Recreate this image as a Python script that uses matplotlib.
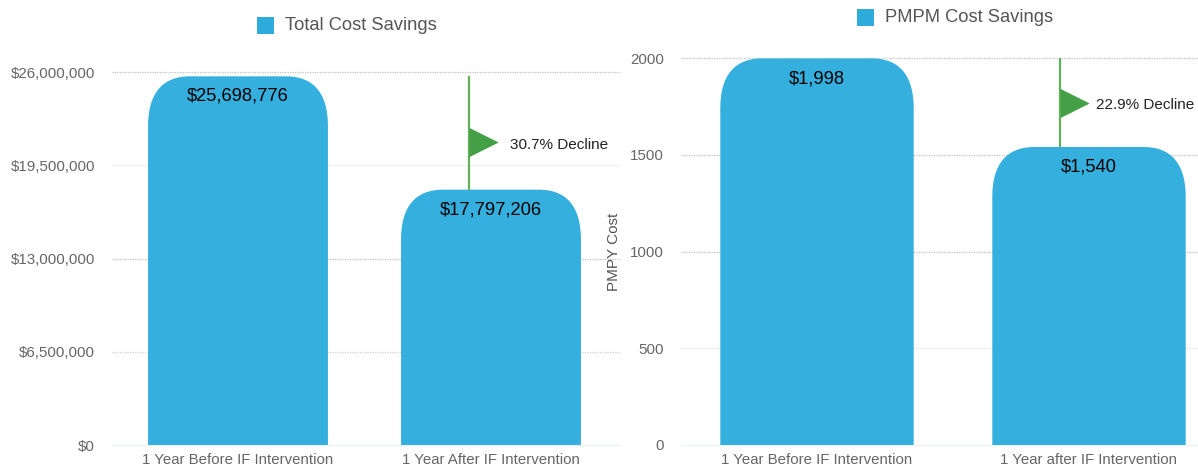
import matplotlib
matplotlib.use("Agg")
import matplotlib.pyplot as plt
from matplotlib.patches import PathPatch
from matplotlib.path import Path

plt.rcParams["font.family"] = ["Liberation Sans", "DejaVu Sans"]

W, H = 1198, 470
BLUE = "#2eaddc"
GREEN = "#43a047"

# ----------------------------------------------------------------------------
# Data
left_title = "Total Cost Savings"
left_cats = ["1 Year Before IF Intervention", "1 Year After IF Intervention"]
left_vals = [25698776, 17797206]
left_labels = ["$25,698,776", "$17,797,206"]
left_ticks = [0, 6500000, 13000000, 19500000, 26000000]
left_ticklabels = ["$0", "$6,500,000", "$13,000,000", "$19,500,000", "$26,000,000"]
left_gridcolors = ["#eef1f3", "#d2d2d2", "#c0c0c0", "#e2e2e2", "#c0c0c0"]
left_flag_value = 21100000
left_flag_text = "30.7% Decline"

right_title = "PMPM Cost Savings"
right_cats = ["1 Year Before IF Intervention", "1 Year after IF Intervention"]
right_vals = [1998, 1540]
right_labels = ["$1,998", "$1,540"]
right_ticks = [0, 500, 1000, 1500, 2000]
right_ticklabels = ["0", "500", "1000", "1500", "2000"]
right_gridcolors = ["#eef1f3", "#e2e2e2", "#c0c0c0", "#c0c0c0", "#c0c0c0"]
right_flag_value = 1770
right_flag_text = "22.9% Decline"


def rounded_bar(ax, x, width, height, rx, ry):
    # bar with rounded corners on top, rx/ry in data units
    k = 0.66
    l, r = x - width / 2, x + width / 2
    verts = [
        (l, 0), (l, height - ry),
        (l, height - ry + k * ry), (l + rx - k * rx, height), (l + rx, height),
        (r - rx, height),
        (r - rx + k * rx, height), (r, height - ry + k * ry), (r, height - ry),
        (r, 0), (l, 0),
    ]
    codes = [Path.MOVETO, Path.LINETO,
             Path.CURVE4, Path.CURVE4, Path.CURVE4,
             Path.LINETO,
             Path.CURVE4, Path.CURVE4, Path.CURVE4,
             Path.LINETO, Path.CLOSEPOLY]
    ax.add_patch(PathPatch(Path(verts, codes), fc=BLUE, ec="none", alpha=0.97, zorder=3))


def draw_panel(fig, box, x0, unit, vals, labels, cats, ticks, ticklabels, gridcolors,
               flag_x, flag_value, flag_text, text_dx):
    left, top, right, bottom = box
    ax = fig.add_axes([left / W, 1 - bottom / H, (right - left) / W, (bottom - top) / H])
    ax.set_xlim(-(x0 - left) / unit, (right - x0) / unit)
    ax.set_ylim(0, ticks[-1])
    ax.patch.set_alpha(0)
    for s in ax.spines.values():
        s.set_visible(False)

    # grid
    for t, c in zip(ticks, gridcolors):
        ax.axhline(t, color=c, lw=0.9, ls=(0, (1, 1)) if t else "-", zorder=1, clip_on=False)

    # bars + labels
    px_y = (bottom - top) / ticks[-1]
    for i, v in enumerate(vals):
        rounded_bar(ax, i, 0.711, v, 42 / unit, 50 / px_y)
        ax.annotate(labels[i], (i, v), xytext=(0, -14.5), textcoords="offset points",
                    ha="center", va="center", fontsize=13.2, color="black", zorder=5)

    ax.set_xticks(range(len(cats)))
    ax.set_xticklabels(cats)
    ax.set_yticks(ticks)
    ax.set_yticklabels(ticklabels)
    ax.tick_params(axis="x", length=0, pad=6, labelsize=10.8, labelcolor="#666666")
    ax.tick_params(axis="y", length=0, pad=12.3, labelsize=10.9, labelcolor="#666666")

    # flag: pole runs between the two bar tops
    ax.plot([flag_x, flag_x], [vals[1], vals[0]], color="#63b05a", lw=1.6, zorder=4,
            solid_capstyle="butt")
    ax.plot([flag_x], [flag_value], marker=Path([(0, -0.5), (1, 0), (0, 0.5), (0, -0.5)], closed=True),
            ms=42, mfc=GREEN, mec="none", zorder=4, clip_on=False)
    ax.annotate(flag_text, (flag_x, flag_value), xytext=(text_dx, -2), textcoords="offset points",
                ha="left", va="center", fontsize=11, color="#222222", zorder=5)
    return ax


fig = plt.figure(figsize=(W / 100, H / 100), dpi=100)

draw_panel(fig, (112, 72, 620, 445), 238, 253, left_vals, left_labels, left_cats,
           left_ticks, left_ticklabels, left_gridcolors,
           0.913, left_flag_value, left_flag_text, 29.5)
draw_panel(fig, (681, 58, 1198, 445), 817, 272, right_vals, right_labels, right_cats,
           right_ticks, right_ticklabels, right_gridcolors,
           0.893, right_flag_value, right_flag_text, 26)

# legends, placed by hand
for sq_x, y_px, txt_x, txt in [(257, 25, 285, left_title), (857, 17, 885, right_title)]:
    fig.patches.append(plt.Rectangle((sq_x / W, 1 - (y_px + 8.5) / H), 17 / W, 17 / H,
                                     transform=fig.transFigure, fc=BLUE, ec="none"))
    fig.text(txt_x / W, 1 - y_px / H, txt, ha="left", va="center", fontsize=13.2, color="#555555")

fig.text(614 / W, 1 - 252 / H, "PMPY Cost", rotation=90, ha="center", va="center",
         fontsize=11, color="#555555")

fig.savefig("out.png", dpi=100)
